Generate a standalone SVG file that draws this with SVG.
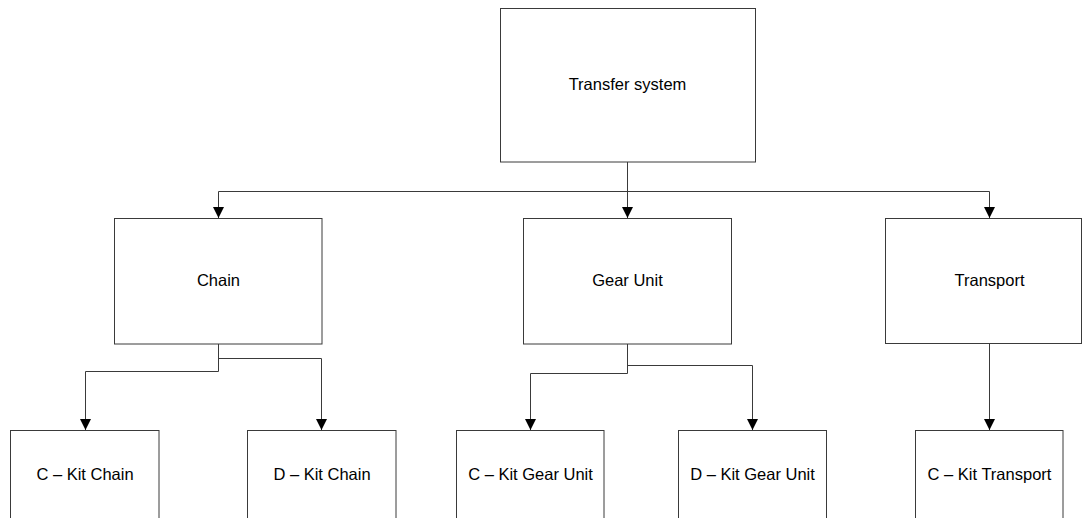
<svg xmlns="http://www.w3.org/2000/svg" width="1083" height="518" viewBox="0 0 1083 518">
  <style>
    .box { fill: #ffffff; stroke: #3a3a3a; stroke-width: 1; }
    .label { font-family: "Liberation Sans", Arial, sans-serif; font-size: 16.5px; fill: #000000; text-anchor: middle; }
    .wire { fill: none; stroke: #3a3a3a; stroke-width: 1; }
    .arrow { marker-end: url(#head); }
  </style>
  <defs>
    <marker id="head" markerUnits="userSpaceOnUse" viewBox="0 0 12 12" markerWidth="12" markerHeight="12" refX="11" refY="6" orient="auto">
      <path d="M0,0.5 L11,6 L0,11.5 Z" fill="#000000"/>
    </marker>
  </defs>
  <rect width="1083" height="518" fill="#ffffff"/>

  <!-- connectors -->
  <g id="connectors">
    <path class="wire arrow" d="M627.5,162 V218"/>
    <path class="wire arrow" d="M627.5,191.5 H218.5 V218"/>
    <path class="wire arrow" d="M627.5,191.5 H989.5 V218"/>
    <path class="wire arrow" d="M218.5,344 V371.5 H85.5 V430"/>
    <path class="wire arrow" d="M218.5,358.5 H321.5 V430"/>
    <path class="wire arrow" d="M627.5,344 V373.5 H530.5 V430"/>
    <path class="wire arrow" d="M627.5,365.5 H752.5 V430"/>
    <path class="wire arrow" d="M989.5,343.5 V430"/>
  </g>

  <!-- top level -->
  <g id="transfer-system">
    <rect class="box" x="500.5" y="8.5" width="255" height="153.5"/>
    <text class="label" x="627.5" y="89.5">Transfer system</text>
  </g>

  <!-- second level -->
  <g id="chain">
    <rect class="box" x="114.5" y="218.5" width="207.5" height="125.5"/>
    <text class="label" x="218.5" y="286">Chain</text>
  </g>
  <g id="gear-unit">
    <rect class="box" x="523.5" y="218.5" width="208" height="125.5"/>
    <text class="label" x="627.5" y="286">Gear Unit</text>
  </g>
  <g id="transport">
    <rect class="box" x="885.5" y="218.5" width="196" height="125"/>
    <text class="label" x="989.5" y="286">Transport</text>
  </g>

  <!-- third level -->
  <g id="c-kit-chain">
    <rect class="box" x="10.5" y="430.5" width="148.5" height="100"/>
    <text class="label" x="85" y="480">C – Kit Chain</text>
  </g>
  <g id="d-kit-chain">
    <rect class="box" x="247.5" y="430.5" width="148.5" height="100"/>
    <text class="label" x="322" y="480">D – Kit Chain</text>
  </g>
  <g id="c-kit-gear-unit">
    <rect class="box" x="456.5" y="430.5" width="147.5" height="100"/>
    <text class="label" x="530.5" y="480">C – Kit Gear Unit</text>
  </g>
  <g id="d-kit-gear-unit">
    <rect class="box" x="678.5" y="430.5" width="148" height="100"/>
    <text class="label" x="752.5" y="480">D – Kit Gear Unit</text>
  </g>
  <g id="c-kit-transport">
    <rect class="box" x="915.5" y="430.5" width="147.5" height="100"/>
    <text class="label" x="989.5" y="480">C – Kit Transport</text>
  </g>
</svg>
